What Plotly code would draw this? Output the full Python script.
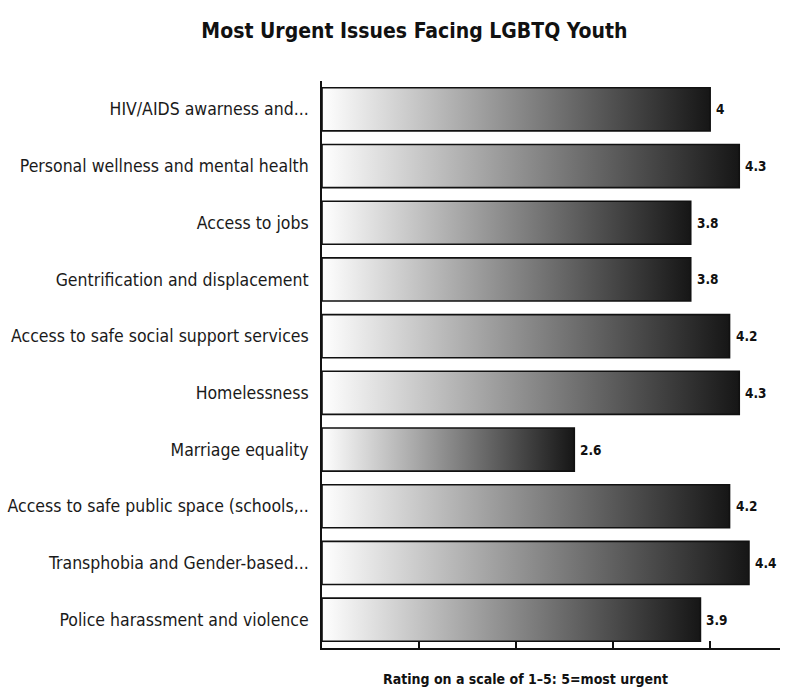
import plotly.graph_objects as go

categories = [
    "HIV/AIDS awarness and...",
    "Personal wellness and mental health",
    "Access to jobs",
    "Gentrification and displacement",
    "Access to safe social support services",
    "Homelessness",
    "Marriage equality",
    "Access to safe public space (schools,..",
    "Transphobia and Gender-based...",
    "Police harassment and violence",
]
values = [4.0, 4.3, 3.8, 3.8, 4.2, 4.3, 2.6, 4.2, 4.4, 3.9]
value_labels = ["4", "4.3", "3.8", "3.8", "4.2", "4.3", "2.6", "4.2", "4.4", "3.9"]
x_ticks = [1, 2, 3, 4]

FONT = "DejaVu Sans Condensed, Liberation Sans Narrow, sans-serif"
half = 0.38  # half bar thickness in category units

fig = go.Figure()
for i, (cat, v) in enumerate(zip(categories, values)):
    fig.add_trace(go.Scatter(
        x=[0, v, v, 0, 0],
        y=[i - half, i - half, i + half, i + half, i - half],
        mode="lines",
        fill="toself",
        fillgradient=dict(type="horizontal",
                          colorscale=[[0, "#ffffff"], [0.5, "#8a8a8a"], [1, "#161616"]]),
        line=dict(color="#111111", width=1.6),
        hoverinfo="skip",
        showlegend=False,
    ))

annotations = [
    dict(x=v, y=i, xref="x", yref="y", text=f"<b>{t}</b>", showarrow=False,
         xanchor="left", yanchor="middle", xshift=4,
         font=dict(family=FONT, size=13.5, color="#111111"))
    for i, (v, t) in enumerate(zip(values, value_labels))
]
annotations.append(dict(text="<b>Rating on a scale of 1–5: 5=most urgent</b>",
                        xref="paper", yref="paper", x=0.445, y=-0.037,
                        xanchor="center", yanchor="top", showarrow=False,
                        font=dict(family=FONT, size=14, color="#111111")))

fig.update_layout(
    width=800, height=691,
    margin=dict(l=322, r=20, t=81, b=43),
    paper_bgcolor="white",
    plot_bgcolor="white",
    title=dict(text="<b>Most Urgent Issues Facing LGBTQ Youth</b>",
               x=0.518, xanchor="center", y=0.956, yanchor="middle",
               font=dict(family=FONT, size=21, color="#111111"),
               automargin=False),
    xaxis=dict(range=[0, 4.72], tickvals=x_ticks, showticklabels=False,
               ticks="inside", ticklen=7, tickwidth=1.5, tickcolor="#111111",
               showline=True, linecolor="#111111", linewidth=1.6,
               showgrid=False, zeroline=False, fixedrange=True, automargin=False),
    yaxis=dict(range=[9.5, -0.5], tickvals=list(range(len(categories))),
               ticktext=categories, ticks="", showline=True, linecolor="#111111",
               linewidth=1.6, showgrid=False, zeroline=False, automargin=False,
               fixedrange=True,
               tickfont=dict(family=FONT, size=17.5, color="#1a1a1a"),
               ticklabelstandoff=8),
    annotations=annotations,
)

fig.write_html("out.html", config={"displayModeBar": False},
               post_script="document.body.style.margin='0';")
